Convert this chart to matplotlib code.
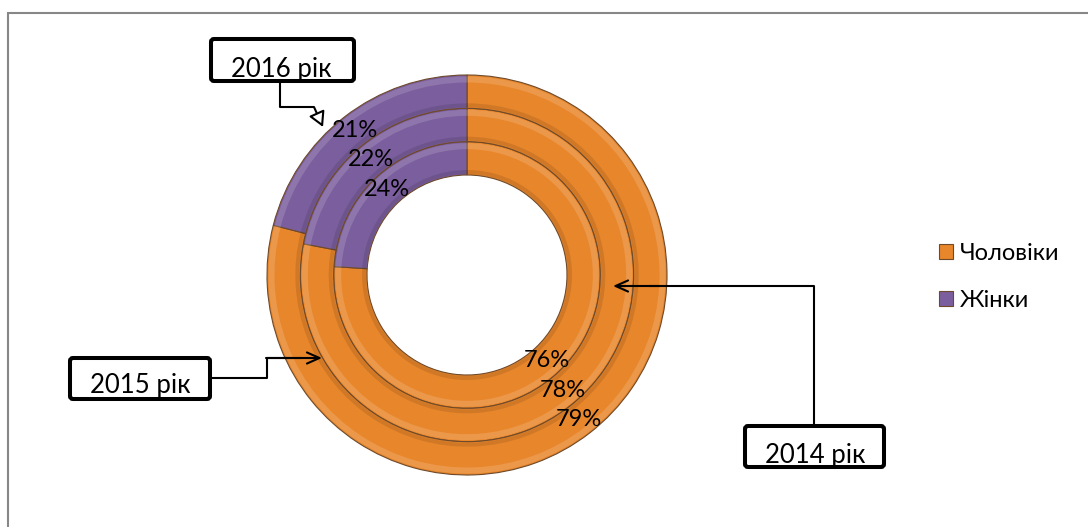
import matplotlib
matplotlib.use("Agg")
import matplotlib.pyplot as plt
from matplotlib.patches import Rectangle, FancyBboxPatch, Wedge

plt.rcParams['font.family'] = ['Lato', 'Noto Sans', 'DejaVu Sans']

# ---- data ----
categories = ['Чоловіки', 'Жінки']
years = ['2014 рік', '2015 рік', '2016 рік']   # inner -> outer ring
men = [76, 78, 79]
women = [24, 22, 21]

# ---- style ----
ORANGE = '#E8862B'
PURPLE = '#7B5E9D'
EDGE = '#6E4A2A'
W, H = 1088, 527


def Y(yp):
    return H - yp


fig = plt.figure(figsize=(W / 100, H / 100), dpi=100)
ax = fig.add_axes([0, 0, 1, 1])

cx, cy = 467, Y(275)
r_hole = 100
ring_w = 100 / 3

outer_wedges = None
for i, yr in enumerate(years):
    r = r_hole + (i + 1) * ring_w
    wedges, texts, autotexts = ax.pie(
        [men[i], women[i]], radius=r, center=(cx, cy), startangle=90,
        counterclock=False, colors=[ORANGE, PURPLE],
        wedgeprops=dict(width=ring_w, edgecolor=EDGE, linewidth=0.8),
        autopct='%d%%', pctdistance=(r - ring_w / 2) / r,
        textprops=dict(fontsize=17, color='black'), frame=True)
    # bevel-like highlight / shade
    for wdg in wedges:
        t1, t2 = wdg.theta1, wdg.theta2
        ax.add_patch(Wedge((cx, cy), r - 1.5, t1, t2, width=6,
                           facecolor='white', alpha=0.15, lw=0, zorder=1.5))
        ax.add_patch(Wedge((cx, cy), r - ring_w + 5, t1, t2, width=4,
                           facecolor='black', alpha=0.10, lw=0, zorder=1.5))
    for t in autotexts:
        t.set_zorder(5)
    if i == len(years) - 1:
        outer_wedges = wedges

ax.set_xlim(0, W)
ax.set_ylim(0, H)
ax.set_aspect('equal')
ax.axis('off')

# outer chart frame
ax.add_patch(Rectangle((8, -20), 1200, Y(13) + 20, fill=False,
                       edgecolor='#878787', linewidth=1.5, zorder=0))

# legend
ax.legend(handles=outer_wedges, labels=categories, loc='upper left',
          bbox_to_anchor=(939 / W, 1 - 243 / H), frameon=False, fontsize=17,
          handlelength=0.6, handleheight=0.6, handletextpad=0.3,
          labelspacing=1.1, borderaxespad=0, borderpad=0)

# callout boxes: (x0, y0, x1, y1) in pixel coords, text centre
boxes = {
    '2016 рік': ((209, 37, 356, 83), (281, 69)),
    '2015 рік': ((68, 356, 212, 401), (140, 385)),
    '2014 рік': ((743, 424, 886, 469), (815, 455)),
}
for label, ((x0, y0, x1, y1), (tx, ty)) in boxes.items():
    ax.add_patch(FancyBboxPatch((x0 + 2, Y(y1) + 2), x1 - x0 - 4, y1 - y0 - 4,
                                boxstyle='round,pad=0,rounding_size=3',
                                facecolor='white', edgecolor='black',
                                linewidth=2.9, zorder=6))
    ax.text(tx, Y(ty), label, ha='center', va='center', fontsize=18.5,
            zorder=7)

lw = 1.5
# 2016 connector
ax.plot([280, 280, 314], [Y(83), Y(107), Y(107)], color='black', lw=lw,
        zorder=6, solid_capstyle='butt')
ax.annotate('', xy=(323, Y(127)), xytext=(314, Y(107)),
            arrowprops=dict(arrowstyle='-|>,head_length=0.9,head_width=0.5',
                            fc='white', ec='black', lw=lw, shrinkA=0, shrinkB=0),
            zorder=6)
# 2015 connector
ax.plot([212, 267, 267, 300], [Y(378), Y(378), Y(358), Y(358)], color='black',
        lw=lw, zorder=6)
ax.annotate('', xy=(322, Y(358)), xytext=(266, Y(358)),
            arrowprops=dict(arrowstyle='->,head_length=0.9,head_width=0.4',
                            color='black', lw=lw, shrinkA=0, shrinkB=0),
            zorder=6)
# 2014 connector
ax.plot([814, 814, 650], [Y(424), Y(286), Y(286)], color='black', lw=lw,
        zorder=6)
ax.annotate('', xy=(613, Y(286)), xytext=(660, Y(286)),
            arrowprops=dict(arrowstyle='->,head_length=0.9,head_width=0.4',
                            color='black', lw=lw, shrinkA=0, shrinkB=0),
            zorder=6)

fig.savefig('out.png', dpi=100)
